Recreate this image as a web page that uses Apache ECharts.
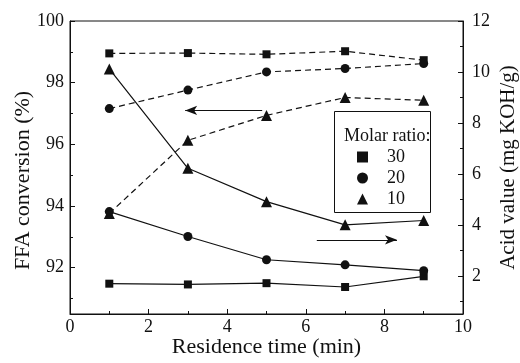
<!DOCTYPE html>
<html>
<head>
<meta charset="utf-8">
<script src="https://cdn.jsdelivr.net/npm/echarts@6/dist/echarts.min.js"></script>
<style>
  html, body { margin: 0; padding: 0; background: #fff; }
  #chart { width: 520px; height: 363px; }
</style>
</head>
<body>
<div id="chart"></div>
<script>
// residence time (min)
const time = [1, 3, 5, 7, 9]
// FFA conversion (%), dashed lines, left axis
const ffa30 = [98.95, 98.96, 98.92, 99.02, 98.73]
const ffa20 = [97.16, 97.76, 98.35, 98.46, 98.62]
const ffa10 = [93.76, 96.13, 96.94, 97.52, 97.43]
// acid value (mg KOH/g), solid lines, right axis
const acid30 = [1.69, 1.66, 1.71, 1.56, 1.98]
const acid20 = [4.52, 3.54, 2.63, 2.43, 2.2]
const acid10 = [10.12, 6.22, 4.91, 4.0, 4.17]

const ratios = ['30', '20', '10']
const symbols = ['rect', 'circle', 'triangle']
const symbolSizes = [8, 9, 11]

const leftTicks = [92, 94, 96, 98, 100]
const leftMinor = [91, 93, 95, 97, 99]
const rightTicks = [2, 4, 6, 8, 10, 12]
const rightMinor = [1, 3, 5, 7, 9, 11]

// arrows pointing to the axis each set belongs to
const leftArrow = [[4.89, 97.1], [2.93, 97.1]]
const rightArrow = [[6.28, 3.41], [8.32, 3.41]]

const font = '"Liberation Serif"'
const ink = '#111'

const pairs = (ys) => time.map((t, i) => [t, ys[i]])

const arrow = (pts) => ({
  silent: true,
  symbol: ['none', 'arrow'],
  symbolSize: [7, 12],
  label: { show: false },
  lineStyle: { type: 'solid', color: ink, width: 1.2 },
  data: [[{ coord: pts[0] }, { coord: pts[1] }]]
})

const makeSeries = (idx, ys, yAxisIndex, dashed) => ({
  name: ratios[idx],
  type: 'line',
  yAxisIndex,
  data: pairs(ys),
  symbol: symbols[idx],
  symbolSize: symbolSizes[idx],
  itemStyle: { color: ink },
  lineStyle: { color: ink, width: 1.2, type: dashed ? [6, 4] : 'solid' },
  emphasis: { disabled: true },
  z: 3
})

const series = [
  makeSeries(0, ffa30, 0, true),
  Object.assign(makeSeries(1, ffa20, 0, true), { markLine: arrow(leftArrow) }),
  makeSeries(2, ffa10, 0, true),
  makeSeries(0, acid30, 2, false),
  Object.assign(makeSeries(1, acid20, 2, false), { markLine: arrow(rightArrow) }),
  makeSeries(2, acid10, 2, false)
]

const labelStyle = { color: ink, fontFamily: font, fontSize: 18 }
const nameStyle = { color: ink, fontFamily: font, fontSize: 22 }

const yAxisBase = (position, min, max) => ({
  type: 'value',
  position,
  min,
  max,
  splitLine: { show: false },
  axisLine: { show: true, lineStyle: { color: ink, width: 1 } }
})

const chart = echarts.init(document.getElementById('chart'))
chart.setOption({
  animation: false,
  textStyle: { fontFamily: font },
  grid: {
    left: 70, right: 57, top: 21, bottom: 49,
    outerBoundsMode: 'none',
    containLabel: false,
    show: true, borderColor: ink, borderWidth: 1
  },
  legend: {
    data: ratios.map((r, i) => ({ name: r, icon: symbols[i] })),
    orient: 'vertical',
    left: 357,
    top: 148,
    padding: 0,
    itemWidth: 11,
    itemHeight: 11,
    itemGap: 3,
    selectedMode: false,
    z: 11,
    textStyle: { color: ink, fontFamily: font, fontSize: 18, lineHeight: 18, padding: [0, 0, 0, 14] }
  },
  graphic: [
    {
      type: 'rect',
      left: 334, top: 111,
      shape: { width: 96, height: 101 },
      style: { fill: '#fff', stroke: ink, lineWidth: 1 },
      z: 10
    },
    {
      type: 'text',
      left: 344, top: 127,
      style: { text: 'Molar ratio:', fill: ink, font: '18px "Liberation Serif"' },
      z: 11
    }
  ],
  xAxis: {
    type: 'value',
    min: 0,
    max: 10,
    interval: 2,
    name: 'Residence time (min)',
    nameLocation: 'middle',
    nameGap: 22,
    nameMoveOverlap: false,
    nameTextStyle: nameStyle,
    splitLine: { show: false },
    axisLine: { lineStyle: { color: ink, width: 1 } },
    axisTick: { inside: true, length: 5, lineStyle: { color: ink } },
    minorTick: { show: true, splitNumber: 2, length: 3, lineStyle: { color: ink } },
    axisLabel: Object.assign({ margin: 4 }, labelStyle)
  },
  yAxis: [
    Object.assign(yAxisBase('left', 90.5, 100), {
      name: 'FFA conversion (%)',
      nameLocation: 'middle',
      nameGap: 36,
      nameMoveOverlap: false,
      nameRotate: 90,
      nameTextStyle: Object.assign({ padding: [0, 26, 0, 0] }, nameStyle),
      axisTick: { inside: true, length: 5, customValues: leftTicks, lineStyle: { color: ink } },
      axisLabel: Object.assign({ margin: 6, customValues: leftTicks }, labelStyle)
    }),
    Object.assign(yAxisBase('left', 90.5, 100), {
      axisLine: { show: false },
      axisTick: { inside: true, length: 3, customValues: leftMinor, lineStyle: { color: ink } },
      axisLabel: { show: false }
    }),
    Object.assign(yAxisBase('right', 0.5, 12), {
      name: 'Acid value (mg KOH/g)',
      nameLocation: 'middle',
      nameGap: 35,
      nameMoveOverlap: false,
      nameRotate: 90,
      nameTextStyle: Object.assign({}, nameStyle, { fontSize: 21 }),
      axisTick: { inside: true, length: 5, customValues: rightTicks, lineStyle: { color: ink } },
      axisLabel: Object.assign({ margin: 9, customValues: rightTicks }, labelStyle)
    }),
    Object.assign(yAxisBase('right', 0.5, 12), {
      axisLine: { show: false },
      axisTick: { inside: true, length: 3, customValues: rightMinor, lineStyle: { color: ink } },
      axisLabel: { show: false }
    })
  ],
  series
})
</script>
</body>
</html>
